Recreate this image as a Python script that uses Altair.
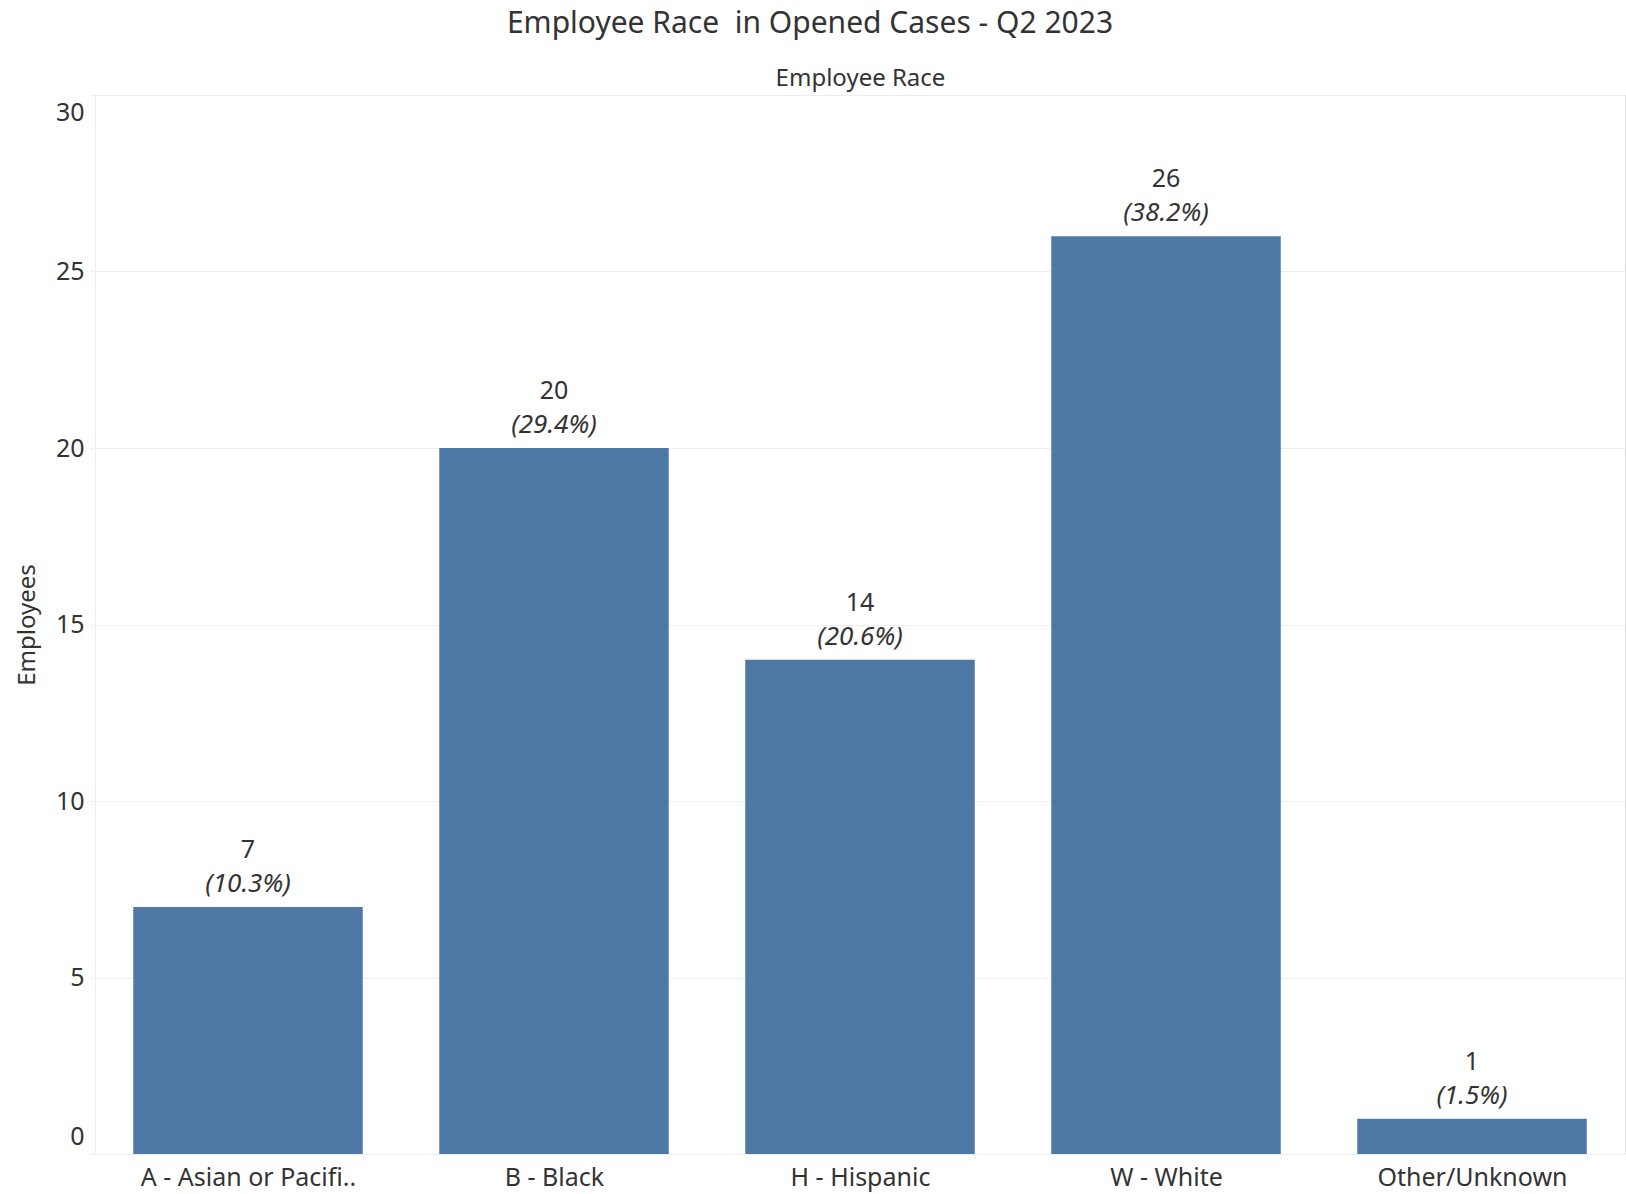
import altair as alt
import pandas as pd

categories = ["A - Asian or Pacifi..", "B - Black", "H - Hispanic", "W - White", "Other/Unknown"]
employees = [7, 20, 14, 26, 1]
percent_labels = ["(10.3%)", "(29.4%)", "(20.6%)", "(38.2%)", "(1.5%)"]
y_ticks = [0, 5, 10, 15, 20, 25, 30]

df = pd.DataFrame({"race": categories, "employees": employees, "pct": percent_labels})

FONT = "Noto Sans"
W, H = 1530, 1059
TEXT = "#333333"
GRID = "#eeeeee"

x_enc = alt.X(
    "race:N", sort=categories,
    scale=alt.Scale(paddingInner=0.25, paddingOuter=0.125),
    axis=alt.Axis(
        title="Employee Race", titleY=-(H + 17), titleBaseline="middle",
        titleFont=FONT, titleFontSize=24, titleFontWeight="normal", titleColor=TEXT,
        labelAngle=0, labelFont=FONT, labelFontSize=25, labelColor=TEXT, labelLimit=0,
        labelPadding=5, tickBand="extent", tickSize=6, tickColor=GRID,
        domainColor=GRID, grid=False,
    ),
)
y_enc = alt.Y(
    "employees:Q",
    scale=alt.Scale(domain=[0, 30], nice=False),
    axis=alt.Axis(
        title="Employees", values=y_ticks, labelFlush=True, labelFlushOffset=-5,
        titleFont=FONT, titleFontSize=24, titleFontWeight="normal", titleColor=TEXT,
        titlePadding=16,
        labelFont=FONT, labelFontSize=25, labelColor=TEXT, labelPadding=6,
        tickSize=5, tickColor=GRID, domainColor=GRID, gridColor=GRID,
    ),
)

base = alt.Chart(df)
bars = base.mark_bar(color="#4E79A7").encode(x=x_enc, y=y_enc)
count_text = base.mark_text(
    dy=-57, baseline="middle", font=FONT, fontSize=25, color=TEXT
).encode(x=alt.X("race:N", sort=categories), y="employees:Q", text="employees:Q")
pct_text = base.mark_text(
    dy=-23, baseline="middle", font=FONT, fontSize=26, fontStyle="italic", color=TEXT
).encode(x=alt.X("race:N", sort=categories), y="employees:Q", text="pct:N")

chart = alt.layer(bars, count_text, pct_text).properties(
    width=W, height=H,
    title=alt.TitleParams(
        "Employee Race \u00a0in Opened Cases - Q2 2023",
        font=FONT, fontSize=30, fontWeight="normal", color=TEXT,
        anchor="middle", dx=-50, offset=27,
    ),
    autosize=alt.AutoSizeParams(type="none"),
    padding={"left": 95, "top": 95, "right": 1, "bottom": 40},
).configure_view(stroke=None).configure(background="white")

chart.save("out.html", embed_options={"renderer": "svg", "actions": False})
